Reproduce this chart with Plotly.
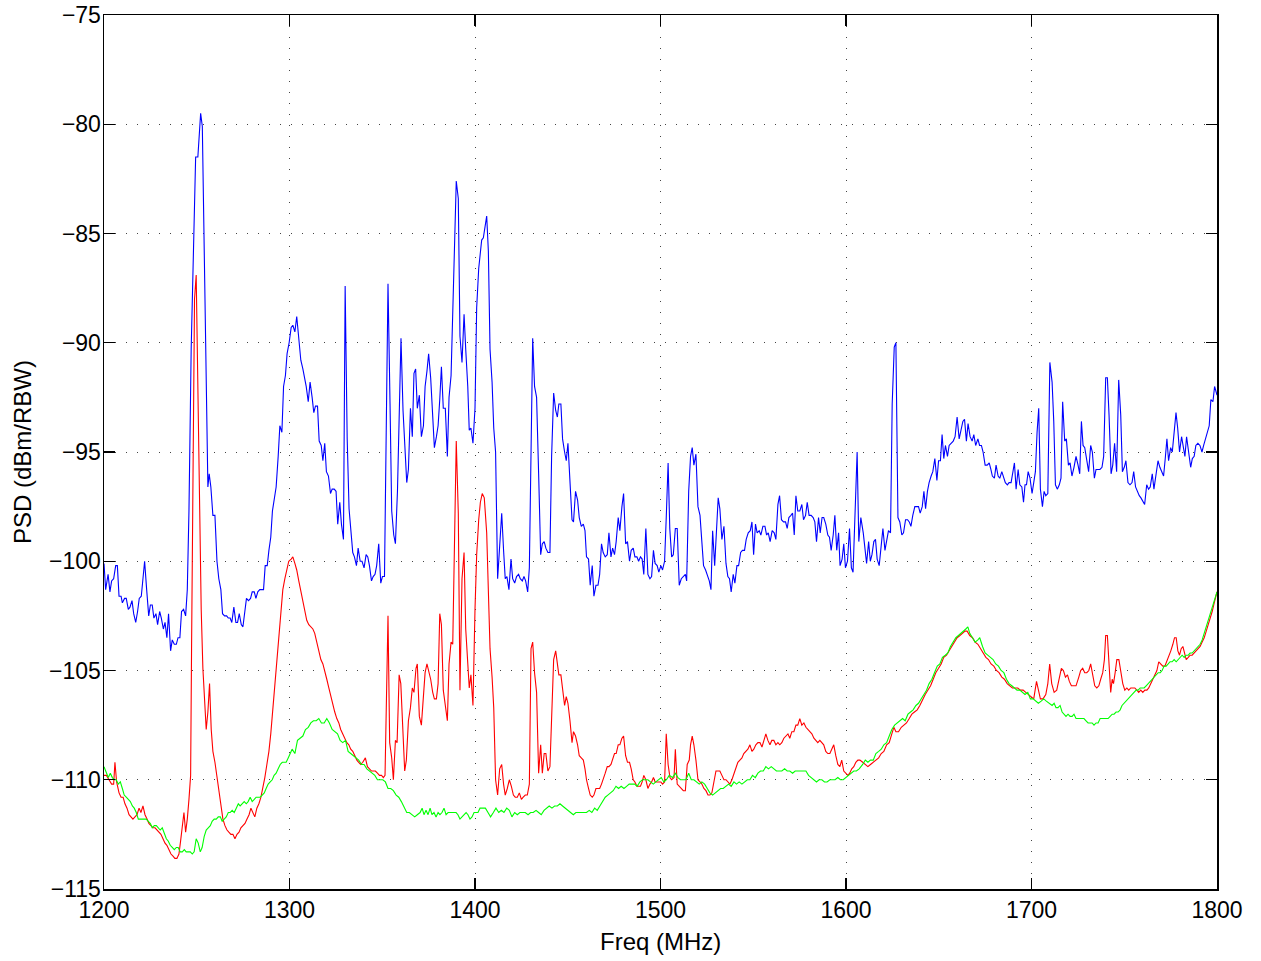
import plotly.graph_objects as go

# ---------------- Blue trace ----------------
blue_freq = [
    1200.0,1200.9,1202.2,1203.2,1204.1,1205.2,1206.3,1207.2,1208.1,1209.2,
    1209.9,1211.1,1212.0,1213.1,1214.0,1215.1,1216.0,1217.1,1218.1,1219.0,
    1220.1,1221.0,1221.9,1223.0,1224.1,1225.0,1226.0,1226.9,1228.0,1228.9,
    1230.0,1230.9,1232.0,1232.9,1233.9,1234.8,1235.9,1236.8,1237.9,1239.0,
    1239.9,1240.9,1241.8,1242.9,1244.0,1244.9,1245.8,1247.0,1248.3,1249.4,
    1250.6,1251.2,1252.1,1253.0,1254.0,1255.1,1256.0,1256.7,1257.6,1258.7,
    1259.8,1260.9,1261.9,1263.0,1263.9,1265.0,1266.1,1267.0,1268.0,1268.9,
    1270.0,1271.1,1272.0,1272.9,1274.0,1274.9,1275.9,1276.8,1277.9,1279.0,
    1279.9,1281.0,1281.9,1282.9,1284.0,1284.9,1286.0,1286.9,1288.0,1288.9,
    1289.9,1290.8,1291.9,1292.8,1293.9,1294.8,1295.9,1296.8,1297.8,1298.7,
    1299.8,1300.9,1301.8,1302.9,1303.9,
    1305.0,1306.1,1307.2,1308.1,1309.0,1310.1,1311.1,1312.2,1313.1,1314.0,
    1315.1,1316.0,1317.1,1318.0,1319.0,1319.9,1321.0,1322.1,1323.0,1324.1,
    1325.1,1326.0,1327.1,1328.0,1329.1,1330.0,1331.1,1332.1,1333.0,1334.1,
    1335.0,1336.1,1337.0,1338.1,1339.1,1340.2,1341.3,1342.2,1343.1,1344.2,
    1345.1,1346.1,1347.0,1348.1,1349.2,1350.1,1351.2,1352.1,1353.1,1354.2,
    1355.1,1356.2,1357.1,1358.2,1359.2,1360.1,1361.2,1362.1,1363.2,1364.1,
    1365.2,1366.2,1367.1,1368.0,1368.9,1370.0,1371.1,1372.2,1373.1,1374.1,
    1375.0,1376.1,1377.2,1378.1,1379.2,1380.1,1381.0,1381.9,1382.9,1384.0,
    1385.1,1386.0,1387.1,1388.0,1389.0,1389.9,1391.0,1391.9,1393.0,1394.1,
    1395.0,1396.1,1396.9,1397.8,1398.9,1400.0,1400.9,1402.0,
    1403.6,1404.5,1405.4,1406.3,1407.2,1408.1,1409.2,1410.1,1411.1,1412.2,
    1413.3,1414.4,1415.4,1416.3,1417.2,1418.3,1419.4,1420.3,1421.4,1422.4,
    1423.5,1424.4,1425.5,1426.4,1427.3,1428.4,1429.3,1430.2,1431.1,1432.1,
    1433.2,1434.3,1435.4,1436.3,1437.3,1438.2,1439.3,1440.4,1441.3,1442.4,
    1443.5,1444.4,1445.2,1446.3,1447.2,1448.3,1449.2,1450.1,1451.2,1452.3,
    1453.1,1454.2,1455.3,1456.2,1457.3,1458.4,1459.3,1460.1,1461.2,1462.1,
    1463.2,1464.1,1465.2,1466.3,1467.2,1468.2,1469.1,1470.2,1471.3,1472.2,
    1473.3,1474.2,1475.2,1476.1,1477.2,1478.1,1479.2,1480.1,1481.2,1482.2,
    1483.3,1484.2,1485.3,1486.2,1487.3,1488.2,1489.2,1490.1,1491.0,1492.1,
    1493.2,1494.3,1495.2,1496.2,1497.1,1498.2,1499.1,1500.2,1501.1,1502.2,
    1503.1,1504.1,
    1505.0,1506.0,1506.9,1508.0,1509.0,1510.1,1511.2,1512.3,1513.4,1514.1,
    1515.2,1516.2,1517.1,1518.0,1519.1,1520.2,1521.3,1522.2,1523.2,1524.3,
    1525.4,1526.3,1527.2,1528.1,1529.2,1530.2,1531.1,1532.0,1533.1,1534.2,
    1535.3,1536.3,1537.2,1538.1,1539.2,1540.1,1541.2,1542.1,1543.2,1544.2,
    1545.3,1546.2,1547.3,1548.4,1549.3,1550.2,1551.2,1552.1,1553.2,1554.1,
    1555.2,1556.3,1557.2,1558.1,1559.1,1560.2,1561.3,1562.2,1563.3,1564.2,
    1565.2,1566.3,1567.4,1568.3,1569.2,1570.3,1571.2,1572.1,1573.0,1574.0,
    1575.1,1576.2,1577.1,1578.2,1579.1,1580.1,1581.2,1582.3,1583.2,1584.1,
    1585.2,1586.1,1587.1,1588.0,1589.1,1590.2,1591.1,1592.0,1593.1,1594.0,
    1595.0,1596.0,1596.8,1597.9,1598.8,1599.7,1600.8,1601.9,1602.9,1603.8,
    1604.9,1606.0,
    1606.9,1608.0,1609.3,1610.2,1611.1,1612.2,1613.1,1614.0,1615.0,1615.9,
    1616.8,1617.9,1618.8,1619.9,1621.0,1621.9,1622.9,1624.0,1624.9,1626.0,
    1626.9,1628.0,1629.0,1630.1,1631.0,1632.1,1633.2,1634.1,1635.0,1636.0,
    1637.1,1638.0,1639.1,1640.0,1641.1,1642.0,1642.9,1643.9,1644.8,1645.9,
    1646.8,1647.9,1649.0,1649.9,1650.9,1651.8,1652.7,1653.6,1654.7,1655.6,
    1656.7,1657.8,1658.8,1659.9,1661.0,1661.9,1663.0,1663.9,1664.9,1665.8,
    1666.9,1668.0,1668.9,1669.9,1671.1,1672.0,1673.0,1673.9,1675.0,1676.1,
    1677.2,1678.1,1678.9,1680.0,1680.9,1682.0,1682.9,1684.0,1684.9,1685.9,
    1687.0,1687.9,1689.0,1689.9,1690.8,1691.7,1692.8,1693.7,1694.8,1695.7,
    1696.5,1697.3,1698.2,1699.2,1700.3,1701.2,1702.1,1703.0,1703.9,1704.8,
    1705.9,1706.8,1707.7,1708.8,
    1709.9,1711.1,1712.0,1712.9,1713.9,1715.0,1715.9,1716.8,1717.9,1718.8,
    1719.9,1720.8,1721.8,1722.9,1724.0,1725.1,1726.0,1726.9,1727.8,1728.7,
    1729.7,1730.8,1731.9,1732.8,1733.9,1734.8,1735.9,1736.9,1738.0,1738.9,
    1740.0,1740.9,1741.8,1742.9,1743.8,1744.8,1745.9,1747.0,1748.1,1749.0,
    1750.0,1750.9,1752.0,1753.1,1754.2,1755.1,1756.1,1757.0,1758.1,1759.0,
    1760.1,1761.0,1762.1,1763.1,1764.0,1765.1,1766.0,1767.1,1768.2,1769.2,
    1770.3,1771.2,1772.1,1773.0,1773.9,1775.0,1775.9,1777.0,1777.9,1778.8,
    1779.8,1780.9,1781.8,1782.7,1783.6,1784.7,1785.8,1786.7,1787.7,1788.6,
    1789.7,1790.8,1791.9,1792.8,1793.8,1794.7,1795.8,1796.7,1797.8,1798.7,
    1800.0,
]
blue_psd = [
    -100.1,-101.3,-100.6,-101.4,-100.9,-100.8,-100.2,-100.2,-101.6,-101.6,
    -101.9,-101.7,-101.7,-102.2,-102.1,-101.8,-102.4,-102.8,-102.3,-101.7,
    -101.6,-100.6,-100.0,-101.3,-102.5,-102.0,-102.0,-102.6,-102.4,-102.9,
    -102.3,-102.6,-103.1,-102.8,-103.5,-102.4,-104.1,-103.6,-103.8,-103.8,
    -103.5,-103.5,-102.3,-102.2,-102.5,-101.3,-97.7,-90.3,-85.1,-81.5,
    -81.5,-80.6,-79.5,-80.1,-85.5,-92.8,-96.6,-96.0,-96.6,-97.9,
    -97.9,-100.0,-100.8,-101.3,-102.4,-102.5,-102.5,-102.6,-102.6,-102.8,
    -102.1,-102.8,-102.8,-102.4,-102.9,-103.0,-102.4,-101.7,-101.8,-101.7,
    -101.4,-101.4,-101.7,-101.4,-101.3,-101.3,-101.3,-100.2,-100.2,-99.5,
    -98.9,-97.7,-97.0,-96.6,-95.2,-93.8,-94.1,-92.0,-91.5,-90.5,
    -90.0,-89.3,-89.2,-89.5,-88.8,
    -90.0,-90.8,-91.2,-91.6,-92.0,-92.7,-91.8,-92.5,-93.2,-92.9,
    -92.9,-94.5,-94.7,-95.4,-94.6,-95.9,-96.1,-96.9,-96.7,-96.7,
    -96.8,-98.3,-97.3,-98.3,-99.0,-87.4,-94.4,-97.6,-98.6,-99.6,
    -99.8,-100.2,-99.4,-100.0,-100.0,-100.3,-99.7,-99.8,-100.2,-100.9,
    -100.7,-100.6,-100.2,-99.2,-101.0,-100.7,-100.7,-93.6,-87.3,-92.8,
    -97.7,-98.8,-99.2,-96.8,-93.6,-89.8,-93.1,-94.6,-96.4,-95.8,
    -93.0,-94.3,-91.4,-91.2,-93.0,-92.4,-94.3,-93.8,-92.0,-91.3,
    -90.5,-91.6,-93.3,-94.8,-94.3,-93.8,-92.6,-91.1,-93.0,-93.0,
    -95.2,-92.5,-91.5,-88.2,-85.0,-82.6,-83.4,-89.7,-90.9,-88.7,
    -90.3,-92.0,-94.0,-93.9,-94.6,-93.0,-88.4,-86.6,
    -85.3,-85.2,-84.7,-84.2,-85.8,-90.3,-91.8,-93.9,-95.0,-100.8,
    -99.3,-97.8,-99.5,-100.8,-100.7,-101.3,-99.9,-100.8,-101.0,-100.7,
    -100.6,-100.8,-100.9,-100.7,-100.9,-101.4,-100.3,-94.1,-89.8,-92.0,
    -92.5,-96.0,-99.7,-99.2,-99.1,-99.4,-99.6,-99.6,-95.2,-92.3,
    -93.1,-93.4,-92.8,-92.8,-94.4,-95.0,-95.4,-94.6,-96.7,-98.1,
    -98.2,-96.8,-97.2,-98.0,-98.4,-98.3,-98.6,-99.8,-99.9,-101.1,
    -100.2,-101.6,-101.1,-101.1,-100.6,-99.2,-99.6,-99.8,-99.7,-98.7,
    -99.8,-99.4,-99.7,-99.1,-98.0,-98.6,-97.5,-96.9,-99.2,-99.1,
    -100.0,-99.5,-99.4,-99.8,-99.8,-100.0,-99.8,-99.9,-100.6,-98.5,
    -100.6,-100.8,-100.7,-99.5,-100.1,-100.2,-100.5,-100.2,-100.4,-100.0,
    -98.0,-95.5,
    -98.5,-99.8,-99.7,-98.5,-98.5,-101.1,-100.8,-100.7,-100.6,-100.9,
    -96.8,-95.2,-94.8,-95.6,-95.1,-97.5,-97.9,-99.0,-100.2,-100.4,
    -100.7,-100.9,-101.3,-98.6,-100.2,-98.7,-97.1,-97.6,-99.0,-98.4,
    -100.1,-100.7,-100.8,-101.4,-100.6,-101.0,-100.2,-100.2,-99.6,-99.5,
    -99.5,-99.0,-98.7,-98.6,-98.2,-99.7,-98.3,-98.7,-98.6,-98.8,
    -98.4,-98.4,-98.8,-98.7,-99.1,-98.6,-98.7,-99.0,-97.4,-97.0,
    -98.1,-98.2,-98.2,-98.5,-98.0,-97.9,-97.8,-98.8,-97.0,-97.7,
    -97.7,-97.4,-98.1,-97.9,-97.3,-97.9,-97.9,-98.0,-98.2,-99.1,
    -98.0,-98.7,-98.0,-98.0,-98.3,-98.8,-98.9,-99.5,-98.8,-97.9,
    -99.5,-98.7,-100.2,-99.9,-99.2,-100.3,-100.0,-98.5,-100.3,-100.5,
    -97.7,-95.0,
    -99.1,-98.0,-98.7,-99.5,-100.1,-99.1,-100.0,-99.7,-99.1,-99.0,
    -99.9,-100.2,-99.5,-98.5,-99.5,-99.1,-98.6,-98.7,-92.8,-90.2,
    -90.0,-98.0,-98.2,-98.8,-98.7,-98.1,-98.1,-98.2,-98.4,-97.9,
    -97.5,-97.5,-97.5,-97.8,-97.5,-96.8,-97.6,-96.8,-96.4,-96.1,
    -95.9,-95.3,-96.3,-95.4,-95.4,-94.2,-95.3,-94.7,-95.2,-94.7,
    -94.6,-94.5,-94.3,-93.4,-94.4,-94.1,-93.6,-93.5,-94.5,-93.7,
    -94.3,-94.5,-94.2,-94.7,-94.4,-94.7,-94.7,-95.0,-95.6,-95.6,
    -95.5,-95.8,-96.1,-96.2,-95.6,-96.1,-96.2,-95.9,-96.2,-96.4,
    -96.5,-96.4,-96.4,-96.0,-95.5,-96.7,-95.8,-96.5,-96.6,-97.3,
    -96.5,-96.5,-95.9,-96.2,-96.9,-96.4,-95.9,-94.1,-93.0,-96.7,
    -97.5,-96.8,-97.0,-96.9,
    -90.9,-91.8,-93.6,-96.5,-96.7,-96.5,-96.2,-92.7,-94.5,-94.4,
    -95.6,-95.5,-96.1,-95.7,-95.2,-95.6,-96.0,-93.6,-94.7,-94.8,
    -95.3,-95.9,-94.7,-95.0,-96.2,-95.8,-95.8,-95.8,-95.7,-95.2,
    -91.6,-91.6,-93.3,-96.0,-95.6,-94.6,-95.9,-91.7,-93.3,-95.9,
    -95.7,-95.4,-96.4,-96.5,-96.4,-95.9,-96.6,-96.8,-97.0,-97.1,
    -97.3,-97.4,-96.5,-96.7,-96.6,-96.0,-96.7,-96.0,-95.4,-95.7,
    -95.9,-96.1,-95.3,-94.4,-95.4,-94.8,-95.0,-93.8,-93.2,-93.9,
    -95.0,-94.3,-94.7,-95.2,-94.3,-95.1,-95.7,-95.3,-95.2,-94.7,
    -94.6,-94.7,-95.0,-94.7,-94.4,-94.2,-93.8,-92.6,-92.7,-92.0,
    -92.4,
]

# ---------------- Red trace ----------------
red_freq = [
    1200.0,1201.3,1202.7,1204.1,1205.2,1205.9,1206.8,1208.1,1209.2,1210.3,
    1211.3,1212.4,1213.5,1214.5,1215.6,1216.7,1217.8,1218.9,1219.9,1221.0,
    1222.1,1223.2,1224.2,1225.3,1226.4,1227.5,1228.5,1229.6,1230.7,1231.8,
    1232.9,1233.9,1235.0,1236.1,1237.2,1238.2,1239.3,1240.4,1241.3,1242.2,
    1243.1,1244.0,1244.9,1245.8,1246.7,1247.2,1247.9,1248.8,1249.7,1250.6,
    1251.5,1252.4,1253.3,1254.2,1255.1,1256.0,1256.9,1257.8,1258.7,1259.8,
    1260.9,1261.9,1263.0,1264.1,1265.2,1266.3,1267.3,1268.4,1269.5,1270.6,
    1271.7,1272.8,1273.8,1274.9,1276.0,1277.1,1278.2,1279.2,1280.3,1281.3,
    1282.4,1283.5,1284.6,1285.6,1286.7,1287.8,1288.9,1289.9,1291.0,1292.1,
    1293.2,1294.3,1295.3,1296.4,1297.5,1298.6,1299.6,
    1300.9,1301.8,1302.9,1303.9,1305.0,1306.1,1307.2,1308.3,1309.3,1310.4,
    1311.5,1312.6,1313.6,1314.7,1315.8,1316.9,1318.0,1319.0,1320.1,1321.2,
    1322.3,1323.3,1324.4,1325.5,1326.6,1327.6,1328.7,1329.8,1330.9,1332.0,
    1333.0,1334.1,1335.2,1336.3,1337.3,1338.4,1339.5,1340.9,1342.0,1343.1,
    1344.2,1345.2,1346.3,1347.4,1348.5,1349.6,1350.6,1351.5,1352.2,1353.1,
    1354.0,1355.1,1356.0,1357.1,1358.0,1359.1,1360.0,1361.0,1362.1,1363.0,
    1364.1,1365.2,1366.2,1367.1,1368.2,1368.9,1370.0,1371.1,1372.2,1373.1,
    1374.1,1375.0,1376.1,1377.2,1378.1,1379.2,1380.1,1381.0,1381.9,1382.9,
    1384.0,1385.1,1386.0,1387.1,1388.0,1388.9,1389.9,1391.0,1391.9,1393.0,
    1394.1,1395.0,1396.1,1396.9,1397.8,1398.9,1400.0,1400.9,1402.0,
    1402.9,1403.9,1405.0,1406.3,1407.2,1408.1,1409.2,1410.1,1411.1,1412.2,
    1413.3,1414.4,1415.4,1416.3,1417.4,1418.5,1419.6,1420.7,1421.7,1422.8,
    1423.9,1425.0,1426.0,1427.1,1428.2,1429.3,1430.2,1431.1,1432.1,1433.2,
    1434.3,1435.4,1436.3,1437.3,1438.2,1439.3,1440.4,1441.3,1442.4,1443.5,
    1444.4,1445.2,1446.3,1447.2,1448.3,1449.2,1450.1,1451.2,1452.3,1453.1,
    1454.2,1455.3,1456.2,1457.3,1458.4,1459.3,1460.1,1461.2,1462.1,1463.2,
    1464.1,1465.2,1466.3,1467.2,1468.2,1469.1,1470.2,1471.3,1472.2,1473.3,
    1474.2,1475.2,1476.1,1477.2,1478.1,1479.2,1480.1,1481.2,1482.2,1483.3,
    1484.2,1485.3,1486.2,1487.3,1488.2,1489.2,1490.1,1491.0,1492.1,1493.2,
    1494.3,1495.2,1496.2,1497.1,1498.2,1499.1,1500.2,1501.1,1502.2,1503.1,
    1504.1,
    1505.1,1506.0,1507.3,1508.0,1509.0,1510.1,1511.2,1512.3,1513.4,1514.4,
    1515.5,1516.2,1517.1,1518.0,1519.1,1520.2,1521.3,1522.3,1523.4,1524.5,
    1525.6,1526.6,1527.7,1528.8,1529.9,1530.9,1532.0,1533.1,1534.2,1535.3,
    1536.3,1537.4,1538.5,1539.6,1540.6,1541.7,1542.8,1543.9,1544.9,1546.0,
    1547.1,1548.2,1549.3,1550.3,1551.4,1552.5,1553.6,1554.7,1555.7,1556.8,
    1557.9,1559.0,1560.0,1561.1,1562.2,1563.3,1564.3,1565.4,1566.5,1567.6,
    1568.7,1569.7,1570.8,1571.9,1573.0,1574.0,1575.1,1576.2,1577.3,1578.4,
    1579.4,1580.5,1581.6,1582.7,1583.7,1584.8,1585.9,1587.0,1588.0,1589.1,
    1590.2,1591.3,1592.4,1593.4,1594.5,1595.6,1596.7,1597.7,1598.8,1599.9,
    1601.0,1602.0,1603.1,1604.2,1605.3,1606.4,
    1607.5,1609.0,1610.4,1611.8,1613.2,1614.7,1616.1,1617.6,1619.0,1620.4,
    1621.9,1623.3,1624.7,1625.8,1626.9,1628.3,1629.8,1631.2,1632.6,1634.1,
    1635.5,1636.9,1638.4,1639.8,1641.3,1642.7,1644.1,1645.6,1647.0,1648.4,
    1649.9,1651.3,1652.7,1654.2,1655.6,1657.1,1658.5,1659.9,1661.4,1662.8,
    1664.2,1665.3,1666.7,1668.2,1669.6,1671.1,1672.5,1673.9,1675.4,1676.8,
    1678.2,1679.7,1681.1,1682.5,1684.0,1685.4,1686.9,1688.3,1689.7,1691.2,
    1692.6,1694.0,1695.5,1696.9,1698.3,1699.8,1701.2,1702.7,1703.7,1704.8,
    1706.2,1707.7,1708.8,1709.8,
    1710.9,1712.2,1713.6,1715.0,1716.1,1717.2,1718.3,1719.4,1720.4,1721.5,
    1722.6,1724.0,1725.5,1726.5,1727.6,1728.7,1729.8,1730.9,1731.9,1733.0,
    1734.1,1735.2,1736.3,1737.3,1738.4,1739.3,1740.0,1740.9,1741.8,1742.7,
    1743.5,1744.2,1745.1,1746.0,1747.1,1748.1,1749.2,1750.3,1751.4,1752.4,
    1753.5,1754.6,1755.7,1756.8,1757.8,1758.9,1760.0,1761.1,1762.2,1763.2,
    1764.3,1765.4,1766.5,1767.6,1768.6,1769.7,1770.8,1771.9,1772.9,1774.0,
    1775.1,1776.2,1777.1,1778.0,1778.9,1779.8,1780.7,1781.6,1782.5,1783.4,
    1784.5,1785.5,1786.6,1787.7,1788.8,1789.9,1790.9,1792.0,1793.1,1794.2,
    1795.3,1796.3,1797.4,1798.5,1800.0,
]
red_psd = [
    -109.8,-109.8,-110.0,-110.2,-110.2,-109.2,-110.1,-110.6,-110.8,-110.8,
    -111.1,-111.3,-111.6,-111.7,-111.8,-111.7,-111.6,-111.3,-111.5,-111.2,
    -111.6,-111.8,-112.0,-112.1,-112.2,-112.2,-112.3,-112.4,-112.5,-112.7,
    -112.9,-113.0,-113.2,-113.4,-113.5,-113.6,-113.6,-113.4,-112.8,-112.2,
    -111.5,-112.4,-111.8,-110.9,-109.8,-104.0,-95.1,-88.0,-86.9,-91.6,
    -97.8,-102.2,-104.9,-106.7,-107.7,-106.9,-105.6,-107.7,-108.7,-109.2,
    -109.9,-110.6,-111.3,-111.8,-112.1,-112.3,-112.4,-112.5,-112.5,-112.7,
    -112.5,-112.4,-112.2,-112.1,-112.0,-111.8,-111.6,-111.3,-111.5,-111.7,
    -111.3,-111.1,-110.8,-110.4,-109.9,-109.3,-108.7,-107.9,-106.8,-105.6,
    -104.2,-103.3,-102.2,-101.3,-100.8,-100.4,-100.0,
    -99.9,-99.8,-100.1,-100.4,-100.9,-101.4,-101.8,-102.3,-102.7,-102.9,
    -103.0,-103.1,-103.3,-103.7,-104.1,-104.5,-104.7,-105.1,-105.4,-105.8,
    -106.2,-106.5,-106.9,-107.2,-107.4,-107.7,-107.9,-108.1,-108.3,-108.4,
    -108.6,-108.7,-108.9,-109.1,-109.2,-109.3,-109.2,-109.0,-109.4,-109.5,
    -109.6,-109.6,-109.6,-109.7,-109.8,-109.8,-109.9,-109.8,-105.8,-102.5,
    -108.3,-109.0,-110.0,-108.2,-108.3,-105.2,-105.6,-107.6,-109.6,-109.1,
    -107.3,-106.7,-105.8,-106.0,-104.9,-104.7,-107.1,-107.5,-106.3,-105.1,
    -104.7,-105.0,-105.4,-106.0,-106.3,-106.3,-105.6,-102.4,-102.9,-105.9,
    -106.5,-107.3,-104.7,-103.7,-103.8,-98.7,-94.5,-97.8,-105.9,-100.8,
    -99.6,-103.1,-104.9,-105.8,-105.2,-106.6,-102.2,-99.7,-98.1,
    -97.3,-96.9,-97.1,-98.7,-101.4,-104.0,-105.3,-106.7,-110.0,-110.7,
    -109.5,-109.3,-110.2,-110.7,-110.4,-110.0,-110.3,-110.7,-110.8,-110.8,
    -110.6,-110.9,-110.8,-110.7,-110.7,-110.2,-104.0,-103.7,-105.1,-106.0,
    -109.7,-108.4,-109.7,-108.8,-108.8,-109.6,-109.4,-106.7,-104.5,-104.1,
    -104.7,-105.2,-105.2,-105.8,-106.6,-106.2,-106.5,-107.3,-108.3,-107.8,
    -108.0,-108.4,-108.9,-109.0,-109.1,-109.5,-110.0,-110.4,-110.7,-110.8,
    -110.7,-110.4,-110.4,-110.4,-110.2,-110.0,-109.7,-109.4,-109.4,-109.3,
    -109.0,-108.8,-108.8,-108.4,-108.4,-108.1,-108.0,-108.9,-109.2,-109.2,
    -109.5,-110.0,-110.1,-110.3,-110.3,-110.3,-110.1,-109.8,-110.0,-110.4,
    -110.2,-110.1,-109.9,-110.1,-110.1,-110.1,-110.1,-110.2,-110.1,-107.9,
    -109.3,
    -109.9,-110.0,-109.9,-108.6,-110.2,-110.3,-110.4,-110.5,-110.5,-109.3,
    -109.1,-108.4,-108.0,-108.4,-109.1,-110.0,-110.1,-110.2,-110.4,-110.5,
    -110.7,-110.7,-110.6,-110.1,-109.6,-109.6,-109.6,-109.8,-110.0,-110.0,
    -110.1,-110.2,-110.0,-109.7,-109.4,-109.2,-109.1,-109.0,-108.8,-108.7,
    -108.6,-108.4,-108.7,-108.6,-108.4,-108.3,-108.3,-108.5,-108.2,-107.9,
    -108.2,-108.4,-108.2,-108.2,-108.4,-108.3,-108.4,-108.3,-108.1,-108.0,
    -107.9,-108.1,-107.8,-107.8,-107.5,-107.5,-107.2,-107.5,-107.4,-107.6,
    -107.7,-107.8,-107.9,-108.1,-108.2,-108.3,-108.2,-108.3,-108.4,-108.7,
    -108.8,-108.8,-108.6,-108.4,-108.9,-109.3,-109.4,-109.1,-109.6,-109.7,
    -109.8,-109.7,-109.5,-109.4,-109.2,-109.1,
    -109.1,-109.2,-109.3,-109.4,-109.3,-109.2,-109.1,-109.0,-108.8,-108.7,
    -108.4,-108.3,-107.9,-107.6,-107.8,-107.8,-107.6,-107.5,-107.4,-107.2,
    -107.0,-106.9,-106.8,-106.6,-106.3,-106.1,-105.9,-105.7,-105.4,-105.1,
    -104.9,-104.7,-104.4,-104.3,-104.1,-103.9,-103.7,-103.5,-103.4,-103.3,
    -103.2,-103.2,-103.4,-103.5,-103.7,-103.8,-104.0,-104.2,-104.4,-104.5,
    -104.7,-104.8,-105.0,-105.1,-105.3,-105.4,-105.6,-105.7,-105.8,-105.8,
    -105.8,-105.9,-105.9,-106.0,-106.1,-106.2,-106.3,-105.5,-105.9,-106.3,
    -106.3,-106.1,-105.6,-104.7,
    -105.6,-106.0,-105.9,-105.4,-104.9,-105.0,-105.3,-105.2,-105.5,-105.7,
    -105.7,-105.7,-105.3,-105.0,-104.9,-105.1,-105.1,-105.0,-104.7,-105.3,
    -105.7,-105.8,-105.7,-105.4,-105.1,-104.5,-103.4,-103.4,-104.6,-106.0,
    -105.4,-105.6,-105.1,-104.5,-104.5,-105.1,-105.6,-105.9,-105.8,-105.9,
    -105.8,-105.8,-105.8,-105.9,-106.0,-105.9,-106.0,-105.9,-105.9,-105.8,
    -105.6,-105.4,-105.2,-105.0,-104.6,-104.7,-104.8,-104.8,-104.6,-104.3,
    -104.1,-103.8,-103.5,-103.5,-104.1,-104.3,-104.0,-103.9,-104.2,-104.5,
    -104.4,-104.3,-104.3,-104.2,-104.1,-104.0,-103.9,-103.7,-103.5,-103.2,
    -102.9,-102.6,-102.3,-101.9,-101.4,
]

# ---------------- Green trace ----------------
green_freq = [
    1200.0,1201.3,1202.3,1203.4,1204.5,1205.6,1206.6,1207.7,1208.8,1209.9,
    1210.9,1212.0,1213.1,1214.2,1215.3,1216.3,1217.4,1218.5,1219.6,1220.6,
    1221.7,1222.8,1223.9,1225.0,1226.0,1227.1,1228.2,1229.3,1230.3,1231.4,
    1232.5,1233.6,1234.6,1235.7,1236.8,1237.9,1239.0,1240.0,1241.1,1242.2,
    1243.3,1244.3,1245.4,1246.5,1247.6,1248.6,1249.7,1250.8,1251.9,1252.9,
    1254.0,1255.1,1256.2,1257.3,1258.3,1259.4,1260.5,1261.6,1262.7,1263.7,
    1264.8,1265.9,1267.0,1268.0,1269.1,1270.2,1271.3,1272.4,1273.4,1274.5,
    1275.6,1276.7,1277.7,1278.8,1279.9,1281.0,1282.0,1283.1,1284.2,1285.3,
    1286.4,1287.4,1288.5,1289.6,1290.7,1291.7,1292.8,1293.9,1295.0,1296.1,
    1297.1,1298.2,1299.3,
    1301.4,1302.9,1304.3,1305.7,1307.2,1308.6,1310.1,1311.5,1312.9,1314.4,
    1315.8,1317.2,1318.7,1320.1,1321.5,1323.0,1324.4,1325.9,1327.3,1328.7,
    1330.2,1331.6,1333.0,1334.5,1335.9,1337.3,1338.8,1340.2,1341.7,1343.1,
    1344.5,1346.0,1347.4,1348.8,1350.3,1351.7,1353.1,1354.6,1356.0,1357.5,
    1358.9,1360.3,1361.8,1363.2,1364.6,1366.1,1367.5,1368.9,1370.4,1371.5,
    1372.5,1373.6,1374.7,1375.8,1376.8,1377.9,1379.0,1380.1,1381.1,1382.2,
    1383.3,1384.4,1385.5,1386.5,1387.6,1388.7,1389.8,1390.8,1391.9,1393.0,
    1394.1,1395.2,1396.2,1397.3,1398.4,1399.5,1400.5,1401.6,
    1402.7,1404.1,1405.6,1407.0,1408.4,1409.9,1411.3,1412.8,1414.2,1415.6,
    1417.1,1418.5,1419.9,1421.4,1422.8,1424.2,1425.7,1427.1,1428.6,1430.0,
    1431.4,1432.9,1434.3,1435.7,1437.2,1438.6,1440.0,1441.5,1442.9,1444.4,
    1445.8,1447.2,1448.7,1450.1,1451.5,1453.0,1454.4,1455.8,1457.3,1458.7,
    1460.1,1461.6,1463.0,1464.5,1465.9,1467.3,1468.8,1470.2,1471.6,1473.1,
    1474.5,1476.0,1477.4,1478.8,1480.3,1481.7,1483.1,1484.6,1486.0,1487.4,
    1488.9,1490.3,1491.7,1493.2,1494.6,1496.1,1497.5,1498.9,1500.4,1501.8,
    1503.2,1504.7,
    1506.5,1508.0,1509.4,1510.8,1512.3,1513.7,1515.2,1516.6,1518.0,1519.5,
    1520.9,1522.3,1523.8,1525.2,1526.6,1528.1,1529.5,1531.0,1532.4,1533.8,
    1535.3,1536.7,1538.1,1539.6,1541.0,1542.4,1543.9,1545.3,1546.8,1548.2,
    1549.6,1551.1,1552.5,1553.9,1555.4,1556.8,1558.2,1559.7,1561.1,1562.5,
    1564.0,1565.4,1566.9,1568.3,1569.7,1571.2,1572.6,1574.0,1575.5,1576.9,
    1578.4,1579.8,1581.2,1582.7,1584.1,1585.5,1587.0,1588.4,1589.8,1591.3,
    1592.7,1594.1,1595.6,1597.0,1598.5,1599.9,1601.3,1602.8,1604.2,1605.6,
    1607.1,1609.0,1610.4,1611.8,1613.2,1614.7,1616.1,1617.6,1619.0,1620.4,
    1621.9,1623.3,1624.7,1626.2,1627.6,1629.1,1630.5,1631.9,1633.4,1634.8,
    1636.2,1637.7,1639.1,1640.5,1642.0,1643.4,1644.8,1646.3,1647.7,1649.2,
    1650.6,1652.0,1653.5,1654.9,1656.3,1657.8,1659.2,1660.6,1662.1,1663.5,
    1664.6,1665.7,1666.7,1668.2,1669.6,1671.1,1672.1,1673.6,1675.0,1676.4,
    1677.9,1679.3,1680.7,1682.2,1683.6,1685.1,1686.5,1687.9,1689.4,1690.8,
    1692.2,1693.7,1695.1,1696.5,1698.0,1699.4,1700.9,1702.3,1703.7,1705.2,
    1706.6,1708.0,1709.5,
    1711.1,1712.2,1713.2,1714.3,1715.4,1716.5,1717.6,1718.6,1719.7,1720.8,
    1721.9,1722.9,1724.0,1725.1,1726.2,1727.3,1728.3,1729.4,1730.5,1731.6,
    1732.7,1733.7,1734.8,1735.9,1737.0,1738.1,1739.1,1740.2,1741.3,1742.4,
    1743.5,1744.5,1745.6,1746.7,1747.8,1748.8,1749.9,1751.0,1752.1,1753.2,
    1754.2,1755.3,1756.4,1757.5,1758.6,1759.6,1760.7,1761.8,1762.9,1764.0,
    1765.0,1766.1,1767.2,1768.3,1769.4,1770.4,1771.5,1772.6,1773.7,1774.7,
    1775.8,1776.9,1778.0,1779.1,1780.1,1781.2,1782.3,1783.4,1784.5,1785.5,
    1786.6,1787.7,1788.8,1789.9,1790.9,1792.0,1793.1,1794.2,1795.3,1796.3,
    1797.4,1798.5,1800.0,
]
green_psd = [
    -109.4,-109.7,-109.9,-109.7,-109.9,-110.0,-110.0,-110.2,-110.1,-110.4,
    -110.7,-110.8,-110.9,-111.0,-111.2,-111.3,-111.5,-111.8,-111.8,-111.8,
    -111.8,-111.8,-111.9,-112.0,-112.2,-112.1,-112.1,-112.2,-112.3,-112.2,
    -112.5,-112.7,-112.8,-113.0,-113.1,-113.2,-113.1,-113.1,-113.3,-113.3,
    -113.2,-113.3,-113.3,-113.3,-113.4,-113.3,-112.7,-112.9,-113.3,-113.1,
    -112.6,-112.3,-112.2,-112.1,-111.9,-111.8,-111.8,-111.7,-111.7,-111.9,
    -111.8,-111.7,-111.5,-111.5,-111.4,-111.5,-111.3,-111.1,-111.2,-111.1,
    -111.0,-111.1,-111.0,-110.8,-111.0,-110.9,-110.8,-110.8,-110.8,-110.7,
    -110.6,-110.4,-110.2,-110.1,-110.0,-109.8,-109.7,-109.5,-109.3,-109.2,
    -109.2,-109.2,-109.0,
    -108.6,-108.8,-108.2,-108.1,-108.0,-107.7,-107.6,-107.4,-107.3,-107.3,
    -107.2,-107.4,-107.4,-107.2,-107.4,-107.7,-107.8,-107.9,-108.2,-108.3,
    -108.2,-108.7,-108.8,-108.9,-109.0,-109.1,-109.3,-109.3,-109.5,-109.6,
    -109.7,-109.8,-110.0,-110.0,-110.0,-110.1,-110.4,-110.4,-110.5,-110.7,
    -110.8,-111.0,-111.3,-111.5,-111.5,-111.6,-111.7,-111.6,-111.5,-111.3,
    -111.6,-111.4,-111.6,-111.3,-111.6,-111.5,-111.7,-111.5,-111.6,-111.5,
    -111.3,-111.6,-111.5,-111.5,-111.5,-111.5,-111.5,-111.6,-111.8,-111.7,
    -111.6,-111.5,-111.6,-111.8,-111.7,-111.5,-111.5,-111.5,
    -111.3,-111.3,-111.3,-111.5,-111.7,-111.5,-111.3,-111.5,-111.4,-111.5,
    -111.3,-111.4,-111.7,-111.5,-111.6,-111.5,-111.5,-111.5,-111.6,-111.5,
    -111.5,-111.4,-111.5,-111.6,-111.4,-111.3,-111.2,-111.3,-111.2,-111.2,
    -111.1,-111.2,-111.3,-111.4,-111.5,-111.6,-111.5,-111.5,-111.5,-111.5,
    -111.5,-111.4,-111.5,-111.3,-111.4,-111.2,-111.0,-110.8,-110.7,-110.6,
    -110.5,-110.3,-110.4,-110.3,-110.4,-110.3,-110.2,-110.2,-110.2,-110.3,
    -110.1,-110.0,-110.0,-110.0,-110.1,-110.2,-110.1,-110.0,-109.9,-110.1,
    -110.0,-109.8,
    -109.9,-109.7,-109.9,-110.0,-110.0,-110.0,-109.7,-110.0,-110.0,-110.1,
    -110.2,-110.1,-110.2,-110.4,-110.6,-110.7,-110.6,-110.5,-110.4,-110.4,
    -110.3,-110.2,-110.3,-110.1,-110.2,-110.1,-110.2,-110.1,-110.0,-110.0,
    -109.8,-109.9,-109.7,-109.6,-109.6,-109.4,-109.5,-109.4,-109.5,-109.6,
    -109.6,-109.6,-109.5,-109.6,-109.6,-109.7,-109.6,-109.6,-109.6,-109.6,
    -109.6,-109.8,-109.9,-110.0,-110.1,-110.0,-110.0,-110.1,-110.1,-110.0,
    -110.0,-110.0,-109.9,-110.0,-110.0,-109.9,-109.8,-109.7,-109.6,-109.6,
    -109.5,-109.3,-109.1,-109.2,-109.1,-109.1,-108.8,-108.7,-108.6,-108.4,
    -108.3,-108.0,-107.7,-107.5,-107.4,-107.3,-107.2,-107.3,-107.0,-106.9,
    -106.8,-106.6,-106.5,-106.3,-106.1,-105.9,-105.6,-105.4,-105.1,-104.8,
    -104.7,-104.4,-104.3,-104.2,-103.9,-103.7,-103.5,-103.4,-103.3,-103.2,
    -103.1,-103.0,-103.3,-103.5,-103.7,-103.6,-103.5,-103.9,-104.2,-104.3,
    -104.4,-104.5,-104.7,-104.8,-105.0,-105.1,-105.4,-105.6,-105.7,-105.8,
    -105.9,-105.9,-106.0,-106.1,-106.0,-106.3,-106.3,-106.4,-106.5,-106.4,
    -106.3,-106.4,-106.5,
    -106.6,-106.5,-106.7,-106.7,-106.6,-106.9,-107.0,-107.1,-107.0,-107.1,
    -107.1,-107.0,-107.2,-107.2,-107.2,-107.2,-107.2,-107.3,-107.4,-107.4,
    -107.4,-107.5,-107.4,-107.4,-107.2,-107.2,-107.2,-107.2,-107.2,-107.1,
    -107.0,-107.0,-106.9,-106.9,-106.8,-106.6,-106.5,-106.4,-106.3,-106.2,
    -106.1,-106.0,-105.9,-105.9,-105.8,-105.8,-105.8,-105.7,-105.6,-105.5,
    -105.4,-105.3,-105.2,-105.1,-105.1,-105.0,-104.8,-104.8,-104.7,-104.6,
    -104.6,-104.5,-104.6,-104.5,-104.4,-104.3,-104.4,-104.3,-104.3,-104.2,
    -104.2,-104.1,-104.0,-103.9,-103.8,-103.6,-103.3,-103.0,-102.7,-102.4,
    -102.1,-101.8,-101.4,
]

x_ticks = [1200, 1300, 1400, 1500, 1600, 1700, 1800]
y_ticks = [-115, -110, -105, -100, -95, -90, -85, -80, -75]
x_label = "Freq (MHz)"
y_label = "PSD (dBm/RBW)"

for name, f, v in [("blue", blue_freq, blue_psd), ("red", red_freq, red_psd),
                   ("green", green_freq, green_psd)]:
    assert len(f) == len(v), f"{name}: {len(f)} freqs vs {len(v)} values"

FONT = "Liberation Sans, Arial, Helvetica, sans-serif"
TICK_SIZE = 23
TITLE_SIZE = 24

fig = go.Figure()
for f, v, c in [(blue_freq, blue_psd, "#0000ff"),
                (red_freq, red_psd, "#ff0000"),
                (green_freq, green_psd, "#00ff00")]:
    fig.add_trace(go.Scatter(x=f, y=v, mode="lines",
                             line=dict(color=c, width=1.1),
                             showlegend=False, hoverinfo="skip"))

axis_style = dict(
    showline=True, linecolor="black", linewidth=1.5, mirror="ticks",
    ticks="inside", ticklen=11, tickwidth=1.2, tickcolor="black",
    showgrid=True, gridcolor="#444444", gridwidth=1, griddash="1px,10px",
    zeroline=False, ticklabeloverflow="allow",
    tickfont=dict(family=FONT, size=TICK_SIZE, color="black"),
)

fig.update_xaxes(range=[1200, 1800], tickvals=x_ticks, **axis_style)
fig.update_yaxes(range=[-115, -75], tickvals=y_ticks, ticklabelstandoff=-3,
                 **axis_style)

# axis titles placed as text annotations relative to the plot frame
fig.add_annotation(text=y_label, xref="paper", yref="paper", x=0, y=0.5,
                   xanchor="center", yanchor="middle", xshift=-82, textangle=-90,
                   showarrow=False,
                   font=dict(family=FONT, size=TITLE_SIZE, color="black"))
fig.add_annotation(text=x_label, xref="paper", yref="paper", x=0.5, y=0,
                   xanchor="center", yanchor="middle", yshift=-52,
                   showarrow=False,
                   font=dict(family=FONT, size=TITLE_SIZE, color="black"))

fig.update_layout(
    width=1261, height=961,
    margin=dict(l=104, r=44, t=15, b=72, autoexpand=False),
    paper_bgcolor="white", plot_bgcolor="white",
)

# remove the default page margin so the figure sits at the window's top-left corner
fig.write_html("out.html",
               config={"displayModeBar": False, "staticPlot": True},
               post_script="document.body.style.margin='0';"
                           "document.body.style.overflow='hidden';")
